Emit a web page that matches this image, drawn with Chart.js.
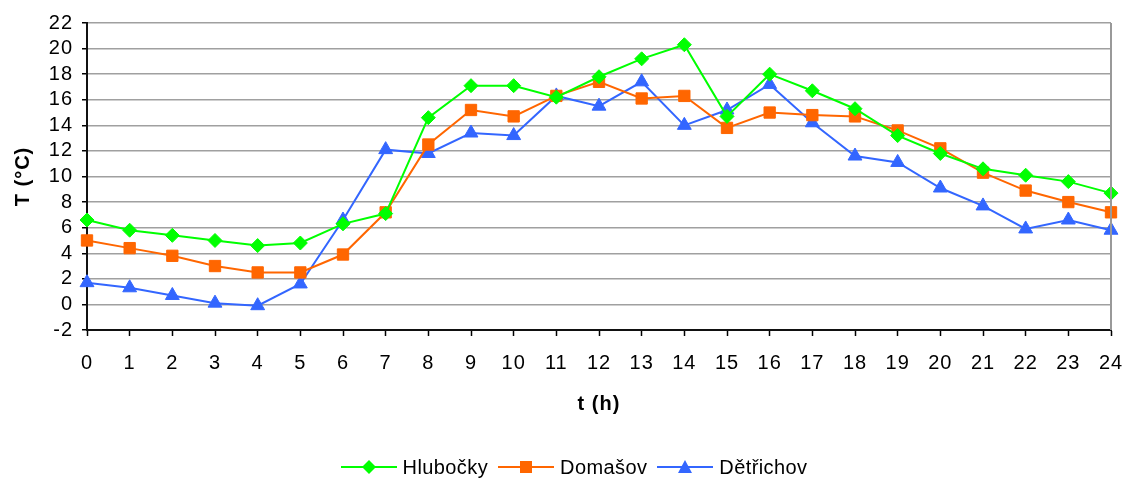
<!DOCTYPE html>
<html>
<head>
<meta charset="utf-8">
<script src="https://cdn.jsdelivr.net/npm/chart.js@4.4.0/dist/chart.umd.min.js"></script>
<style>
  html, body { margin: 0; padding: 0; background: #fff; }
  #wrap { position: relative; width: 1125px; height: 479px; }
  #legend {
    position: absolute; left: 0; top: 455px; width: 1125px; height: 24px; box-sizing: border-box; padding-left: 23px;
    display: flex; justify-content: center; align-items: center;
    font-family: "Liberation Sans", Arial, sans-serif; font-size: 20px; letter-spacing: 0.4px; color: #000;
  }
  #legend .item { display: flex; align-items: center; margin: 0 5px; }
  #legend svg { margin-right: 6px; }
</style>
</head>
<body>
<div id="wrap">
  <canvas id="lineChart" width="1125" height="479"></canvas>
  <div id="legend"></div>
</div>
<script>
// ----- data -----
const hours = ['0','1','2','3','4','5','6','7','8','9','10','11','12','13','14','15','16','17','18','19','20','21','22','23','24'];
const hlubocky = [6.6, 5.8, 5.4, 5.0, 4.6, 4.8, 6.3, 7.1, 14.6, 17.1, 17.1, 16.2, 17.8, 19.2, 20.3, 14.7, 18.0, 16.7, 15.3, 13.2, 11.8, 10.6, 10.1, 9.6, 8.7];
const domasov = [5.0, 4.4, 3.8, 3.0, 2.5, 2.5, 3.9, 7.2, 12.5, 15.2, 14.7, 16.3, 17.4, 16.1, 16.3, 13.8, 15.0, 14.8, 14.7, 13.6, 12.2, 10.3, 8.9, 8.0, 7.2];
const detrichov = [1.7, 1.3, 0.7, 0.1, -0.1, 1.6, 6.6, 12.1, 11.8, 13.4, 13.2, 16.3, 15.5, 17.4, 14.0, 15.2, 17.2, 14.2, 11.6, 11.1, 9.1, 7.7, 5.9, 6.6, 5.8];

const seriesNames = ['Hlubočky', 'Domašov', 'Dětřichov'];
const seriesColors = ['#00ff00', '#ff6600', '#3366ff'];
const seriesMarkers = ['rectRot', 'rect', 'triangle'];
const seriesRadius = [7, 8, 8];

const FONT = '"Liberation Sans", Arial, sans-serif';

// wider text like the original renderer
const spacing = {
  id: 'spacing',
  beforeDraw(chart) { chart.ctx.letterSpacing = '1px'; }
};

// right edge of the plot area (Excel style)
const frame = {
  id: 'frame',
  afterDraw(chart) {
    const a = chart.chartArea;
    const ctx = chart.ctx;
    ctx.save();
    ctx.strokeStyle = '#999';
    ctx.lineWidth = 2;
    ctx.beginPath();
    ctx.moveTo(a.right, a.top);
    ctx.lineTo(a.right, a.bottom);
    ctx.stroke();
    ctx.restore();
  }
};

const allData = [hlubocky, domasov, detrichov];

new Chart(document.getElementById('lineChart').getContext('2d'), {
  type: 'line',
  data: {
    labels: hours,
    datasets: allData.map((d, i) => ({
      label: seriesNames[i],
      data: d,
      borderColor: seriesColors[i],
      backgroundColor: seriesColors[i],
      borderWidth: 2,
      pointStyle: seriesMarkers[i],
      pointRadius: seriesRadius[i],
      pointBorderWidth: 1,
      pointBorderColor: seriesColors[i],
      tension: 0
    }))
  },
  options: {
    responsive: false,
    animation: false,
    layout: { padding: { top: 23, right: 14, left: 0, bottom: 49 } },
    plugins: { legend: { display: false }, tooltip: { enabled: false } },
    scales: {
      x: {
        type: 'category',
        offset: false,
        afterFit(scale) {
          scale.height = 100;
          scale.paddingLeft = 0;
          scale.paddingRight = 0;
        },
        grid: { drawOnChartArea: false, drawTicks: true, tickLength: 6, tickColor: '#000', tickWidth: 1.5 },
        border: { display: true, color: '#111', width: 2 },
        ticks: { color: '#000', font: { family: FONT, size: 20 }, padding: 15, maxRotation: 0, autoSkip: false },
        title: { display: true, text: 't (h)', color: '#000', font: { family: FONT, size: 20, weight: 'bold' }, padding: { top: 0, bottom: 14 } }
      },
      y: {
        min: -2,
        max: 22,
        afterFit(scale) { scale.width = 87; },
        grid: { color: '#a0a0a0', lineWidth: 1.5, drawTicks: true, tickLength: 5, tickColor: '#000' },
        border: { display: true, color: '#111', width: 2 },
        ticks: { stepSize: 2, autoSkip: false, color: '#000', font: { family: FONT, size: 20 }, padding: 9 },
        title: { display: true, text: 'T (°C)', color: '#000', font: { family: FONT, size: 20, weight: 'bold' }, padding: { top: 11, bottom: 0 } }
      }
    }
  },
  plugins: [spacing, frame]
});

// ----- legend as html, line + marker icons -----
function markerSvg(i) {
  const c = seriesColors[i];
  let shape = '';
  if (seriesMarkers[i] === 'rectRot') shape = `<polygon points="28,1 35,8 28,15 21,8" fill="${c}"/>`;
  if (seriesMarkers[i] === 'rect') shape = `<rect x="22" y="2" width="12" height="12" fill="${c}"/>`;
  if (seriesMarkers[i] === 'triangle') shape = `<polygon points="28,1 35,14 21,14" fill="${c}"/>`;
  return `<svg width="56" height="16"><line x1="0" y1="8" x2="56" y2="8" stroke="${c}" stroke-width="2"/>${shape}</svg>`;
}
const legendEl = document.getElementById('legend');
legendEl.innerHTML = seriesNames.map((n, i) => `<span class="item">${markerSvg(i)}<span>${n}</span></span>`).join('');
</script>
</body>
</html>
